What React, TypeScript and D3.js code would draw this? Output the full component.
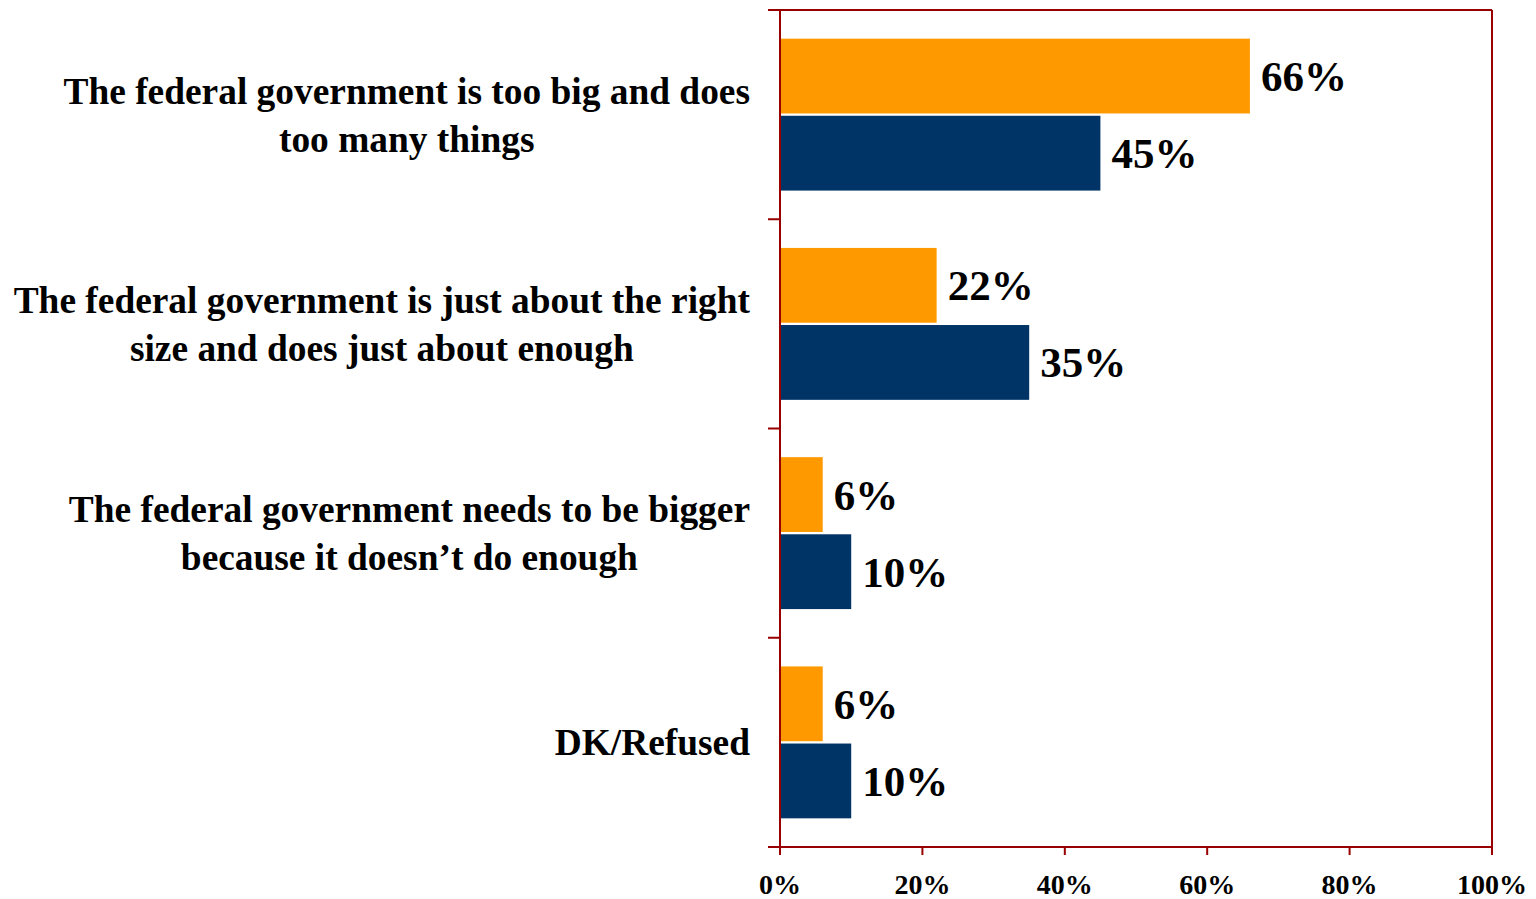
import React from "react";
import * as d3 from "d3";

const categories: string[][] = [
  ["The federal government is too big and does", "too many things"],
  ["The federal government is just about the right", "size and does just about enough"],
  ["The federal government needs to be bigger", "because it doesn\u2019t do enough"],
  ["DK/Refused"],
];
const seriesNames = ["Orange", "Navy"];
const orangeValues = [66, 22, 6, 6];
const navyValues = [45, 35, 10, 10];
const xTicks = [0, 20, 40, 60, 80, 100];
const colors = ["#FF9900", "#003366"];

const W = 1536, H = 899;
const left = 780, right = 1492, top = 10, bottom = 847;
const axisColor = "#990000";
const serif = "'Liberation Serif', 'Times New Roman', serif";
const catSize = 37.4;

function measure(text: string, font: string): number {
  const c = document.createElement("canvas").getContext("2d");
  if (!c) return text.length * 15;
  c.font = font;
  return c.measureText(text).width;
}

export default function App() {
  const x = d3.scaleLinear().domain([0, 100]).range([left, right]);
  const y = d3.scaleBand<number>().domain(d3.range(categories.length)).range([top, bottom]).paddingInner(0.274).paddingOuter(0.137);
  const ys = d3.scaleBand<string>().domain(seriesNames).range([0, y.bandwidth()]).paddingInner(0.03);
  const step = y.step();
  const catFont = `bold ${catSize}px ${serif}`;
  const data = [orangeValues, navyValues];

  return (
    <svg width={W} height={H} style={{ position: "absolute", left: 0, top: 0, background: "#fff" }}>
      {data.map((vals, si) =>
        vals.map((v, ci) => {
          const by = (y(ci) as number) + (ys(seriesNames[si]) as number);
          const bh = ys.bandwidth();
          return (
            <g key={`${si}-${ci}`}>
              <rect x={x(0)} y={by} width={x(v) - x(0)} height={bh} fill={colors[si]} />
              <text x={x(v) + 11} y={by + bh / 2} dy="0.35em" fontFamily={serif} fontWeight="bold" fontSize={43} fill="#000">{v}%</text>
            </g>
          );
        })
      )}
      <line x1={left} x2={left} y1={top} y2={bottom} stroke={axisColor} strokeWidth={2} />
      <line x1={right} x2={right} y1={top} y2={bottom + 8} stroke={axisColor} strokeWidth={2} />
      <line x1={left - 12} x2={right} y1={top} y2={top} stroke={axisColor} strokeWidth={2} />
      <line x1={left - 12} x2={right} y1={bottom} y2={bottom} stroke={axisColor} strokeWidth={2} />
      {d3.range(1, categories.length).map((i) => (
        <line key={i} x1={left - 12} x2={left} y1={top + i * step} y2={top + i * step} stroke={axisColor} strokeWidth={2} />
      ))}
      {xTicks.map((t) => (
        <g key={t}>
          <line x1={x(t)} x2={x(t)} y1={bottom} y2={bottom + 8} stroke={axisColor} strokeWidth={2} />
          <text x={x(t)} y={894} textAnchor="middle" fontFamily={serif} fontWeight="bold" fontSize={28} fill="#000">{t}%</text>
        </g>
      ))}
      {categories.map((lines, ci) => {
        const widths = lines.map((l) => measure(l, catFont));
        const maxW = Math.max(...widths);
        const cx = 750 - maxW / 2;
        const cy = top + ci * step + step / 2;
        const lh = 48;
        return (
          <text key={ci} fontFamily={serif} fontWeight="bold" fontSize={catSize} textAnchor="middle" fill="#000">
            {lines.map((l, li) => (
              <tspan key={li} x={cx} y={cy + (li - (lines.length - 1) / 2) * lh} dy="0.35em">{l}</tspan>
            ))}
          </text>
        );
      })}
    </svg>
  );
}
